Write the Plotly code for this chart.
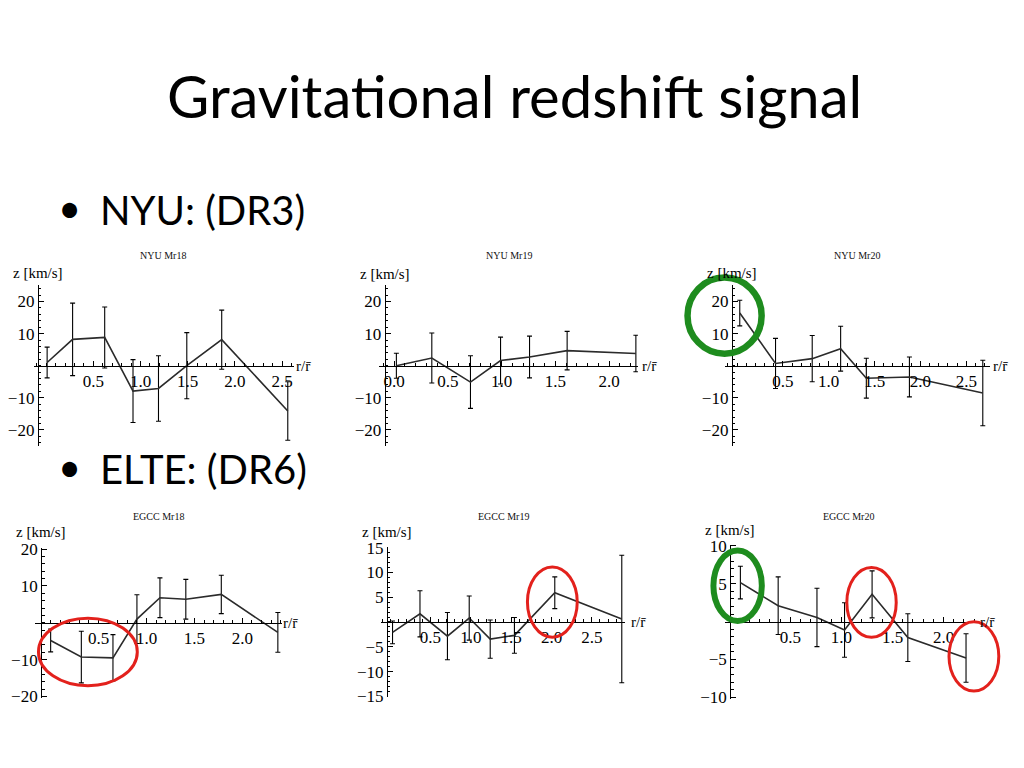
import plotly.graph_objects as go

# page body has an 8px margin, so the figure is drawn 8px in from the top-left corner
OFF = 8
W, H = 1024 - OFF, 768 - OFF

# ---------------- data ----------------
panel_titles = ["NYU Mr18", "NYU Mr19", "NYU Mr20", "EGCC Mr18", "EGCC Mr19", "EGCC Mr20"]

x_nyu18 = [0.01, 0.28, 0.62, 0.92, 1.19, 1.49, 1.86, 2.56]
y_nyu18 = [1.0, 8.2, 8.8, -7.9, -7.1, 0.0, 8.1, -14.1]
e_nyu18 = [4.8, 11.3, 9.5, 9.8, 10.2, 10.3, 9.2, 9.1]

x_nyu19 = [0.02, 0.35, 0.71, 0.99, 1.26, 1.61, 2.25]
y_nyu19 = [0.0, 2.4, -5.1, 1.6, 2.7, 4.7, 3.8]
e_nyu19 = [3.9, 7.8, 8.2, 7.3, 6.5, 6.0, 5.7]

x_nyu20 = [0.03, 0.42, 0.82, 1.13, 1.41, 1.88, 2.68]
y_nyu20 = [16.4, 0.7, 2.2, 5.3, -3.9, -3.5, -8.5]
e_nyu20 = [4.0, 7.8, 7.2, 7.0, 6.2, 6.2, 10.2]

x_egcc18 = [0.0, 0.32, 0.65, 0.90, 1.14, 1.41, 1.78, 2.37]
y_egcc18 = [-4.8, -9.3, -9.5, 1.0, 6.8, 6.4, 7.7, -2.6]
e_egcc18 = [3.1, 7.0, 6.3, 6.6, 5.4, 5.4, 5.2, 5.4]

x_egcc19 = [0.03, 0.37, 0.71, 0.98, 1.24, 1.54, 2.04, 2.87]
y_egcc19 = [-2.1, 1.65, -2.85, 0.8, -3.45, -2.7, 5.9, 0.6]
e_egcc19 = [2.3, 4.65, 4.75, 4.45, 3.85, 3.6, 3.2, 12.85]

x_egcc20 = [0.01, 0.38, 0.76, 1.03, 1.30, 1.65, 2.22]
y_egcc20 = [5.15, 2.1, 0.55, -1.1, 3.6, -2.1, -4.8]
e_egcc20 = [2.15, 3.8, 3.85, 3.6, 3.1, 3.15, 3.2]

xticks_nyu18 = [0.5, 1.0, 1.5, 2.0, 2.5]
xticks_nyu19 = [0.0, 0.5, 1.0, 1.5, 2.0]
xticks_nyu20 = [0.5, 1.0, 1.5, 2.0, 2.5]
xticks_egcc18 = [0.5, 1.0, 1.5, 2.0]
xticks_egcc19 = [0.5, 1.0, 1.5, 2.0, 2.5]
xticks_egcc20 = [0.5, 1.0, 1.5, 2.0]

yticks_nyu = [-20, -10, 10, 20]
yticks_egcc18 = [-20, -10, 10, 20]
yticks_egcc19 = [-15, -10, -5, 5, 10, 15]
yticks_egcc20 = [-10, -5, 5, 10]

series = [
    (x_nyu18, y_nyu18, e_nyu18, xticks_nyu18, yticks_nyu),
    (x_nyu19, y_nyu19, e_nyu19, xticks_nyu19, yticks_nyu),
    (x_nyu20, y_nyu20, e_nyu20, xticks_nyu20, yticks_nyu),
    (x_egcc18, y_egcc18, e_egcc18, xticks_egcc18, yticks_egcc18),
    (x_egcc19, y_egcc19, e_egcc19, xticks_egcc19, yticks_egcc19),
    (x_egcc20, y_egcc20, e_egcc20, xticks_egcc20, yticks_egcc20),
]

# ---------------- layout (screen pixel boxes) ----------------
panels = [
    dict(box=(21.7, 285.0, 283.6, 447.8), xr=[-0.134, 2.623], yr=[-25, 25], yax=26.0, ymin=2, tc=(153, 253), zy=271, xl=0),
    dict(box=(371.7, 633.3, 283.6, 447.8), xr=[-0.138, 2.269], yr=[-25, 25], yax=377.0, ymin=2, tc=(503, 253), zy=272, xl=2),
    dict(box=(721.7, 990.0, 283.6, 447.8), xr=[-0.128, 2.763], yr=[-25, 25], yax=728.3, ymin=2, tc=(855, 253), zy=271, xl=1),
    dict(box=(23.3, 273.3, 552.2, 705.2), xr=[-0.162, 2.415], yr=[-20.3, 20.3], yax=29.3, ymin=2, tc=(148, 520), zy=536, xl=-1),
    dict(box=(373.3, 620.0, 550.7, 705.0), xr=[-0.113, 2.907], yr=[-15.2, 15.2], yax=379.3, ymin=1, tc=(497, 520), zy=536, xl=4),
    dict(box=(721.7, 976.7, 548.8, 706.2), xr=[-0.138, 2.33], yr=[-10.15, 10.15], yax=726.7, ymin=1, tc=(846, 520), zy=534, xl=1),
]

SERIF = "Liberation Serif"
SANS = "Lato"

fig = go.Figure()
layout_axes = {}
annotations = []


def px(xp):
    return (xp - OFF) / W


def py(yp):
    return 1 - (yp - OFF) / H


for i, (p, (xs, ys, es, xt, yt)) in enumerate(zip(panels, series), start=1):
    l, r, t, b = p["box"]
    y0, y1 = p["yr"]
    zero_px = t + (y1 - 0) / (y1 - y0) * (b - t)
    fig.add_trace(go.Scatter(
        x=xs, y=ys, mode="lines",
        line=dict(color="#2b2b2b", width=1.6),
        error_y=dict(type="data", array=es, visible=True, color="black", thickness=1.1, width=2.5),
        xaxis=f"x{i}", yaxis=f"y{i}", showlegend=False, hoverinfo="skip",
    ))
    common = dict(showline=True, linecolor="black", linewidth=1, showgrid=False, zeroline=False,
                  ticks="inside", ticklen=5, tickcolor="black", tickwidth=1,
                  tickfont=dict(family=SERIF, size=17, color="black"), anchor="free", fixedrange=True)
    layout_axes[f"xaxis{i}"] = dict(
        domain=[px(l), px(r)], range=p["xr"], position=py(zero_px),
        tickmode="array", tickvals=xt, tickformat=".1f",
        minor=dict(ticks="inside", ticklen=2.5, tickcolor="black", dtick=0.1, tick0=0, showgrid=False),
        **common)
    layout_axes[f"yaxis{i}"] = dict(
        domain=[py(b), py(t)], range=p["yr"], position=px(p["yax"]),
        tickmode="array", tickvals=yt,
        minor=dict(ticks="inside", ticklen=2.5, tickcolor="black", dtick=p["ymin"], tick0=0, showgrid=False),
        **common)
    annotations.append(dict(text=panel_titles[i - 1], x=px(p["tc"][0]), y=py(p["tc"][1]), xref="paper", yref="paper",
                            showarrow=False, xanchor="center", yanchor="middle",
                            font=dict(family=SERIF, size=10, color="#111111")))
    annotations.append(dict(text="z [km/s]", x=px(p["yax"]), y=py(p["zy"]), xref="paper", yref="paper",
                            showarrow=False, xanchor="center", yanchor="middle",
                            font=dict(family=SERIF, size=15, color="black")))
    annotations.append(dict(text="r/r\u0304", x=px(r + p["xl"]), y=py(zero_px), xref="paper", yref="paper",
                            showarrow=False, xanchor="left", yanchor="middle",
                            font=dict(family=SERIF, size=15, color="black")))

annotations += [
    dict(text="Gravitational redshift signal", x=px(508), y=py(89), xref="paper", yref="paper",
         showarrow=False, xanchor="center", yanchor="middle", font=dict(family=SANS, size=58, color="black")),
    dict(text="•", x=px(58), y=py(204), xref="paper", yref="paper", showarrow=False,
         xanchor="center", yanchor="middle", font=dict(family=SANS, size=40, color="black")),
    dict(text="NYU: (DR3)", x=px(87), y=py(206), xref="paper", yref="paper", showarrow=False,
         xanchor="left", yanchor="middle", font=dict(family=SANS, size=40, color="black")),
    dict(text="•", x=px(58), y=py(469), xref="paper", yref="paper", showarrow=False,
         xanchor="center", yanchor="middle", font=dict(family=SANS, size=40, color="black")),
    dict(text="ELTE: (DR6)", x=px(87), y=py(471), xref="paper", yref="paper", showarrow=False,
         xanchor="left", yanchor="middle", font=dict(family=SANS, size=40, color="black")),
]

GREEN = "#1E8C1E"
RED = "#E3211C"
ellipses = [
    (721.0, 314.5, 37.5, 39.0, GREEN, 6.5),
    (734.2, 590.8, 24.5, 36.0, GREEN, 6.0),
    (76.7, 658.5, 50.0, 34.5, RED, 3.0),
    (546.7, 607.5, 25.2, 36.0, RED, 3.0),
    (869.7, 607.8, 25.0, 35.7, RED, 3.0),
    (973.3, 663.0, 25.2, 35.5, RED, 3.0),
]
shapes = []
for cx, cy, rx, ry, col, lw in ellipses:
    shapes.append(dict(type="circle", xref="paper", yref="paper",
                       x0=px(cx - rx), x1=px(cx + rx), y0=py(cy + ry), y1=py(cy - ry),
                       line=dict(color=col, width=lw), layer="above"))

fig.update_layout(
    width=W, height=H, margin=dict(l=0, r=0, t=0, b=0),
    paper_bgcolor="white", plot_bgcolor="rgba(0,0,0,0)",
    annotations=annotations, shapes=shapes, showlegend=False,
    **layout_axes,
)

fig.write_html("out.html")
